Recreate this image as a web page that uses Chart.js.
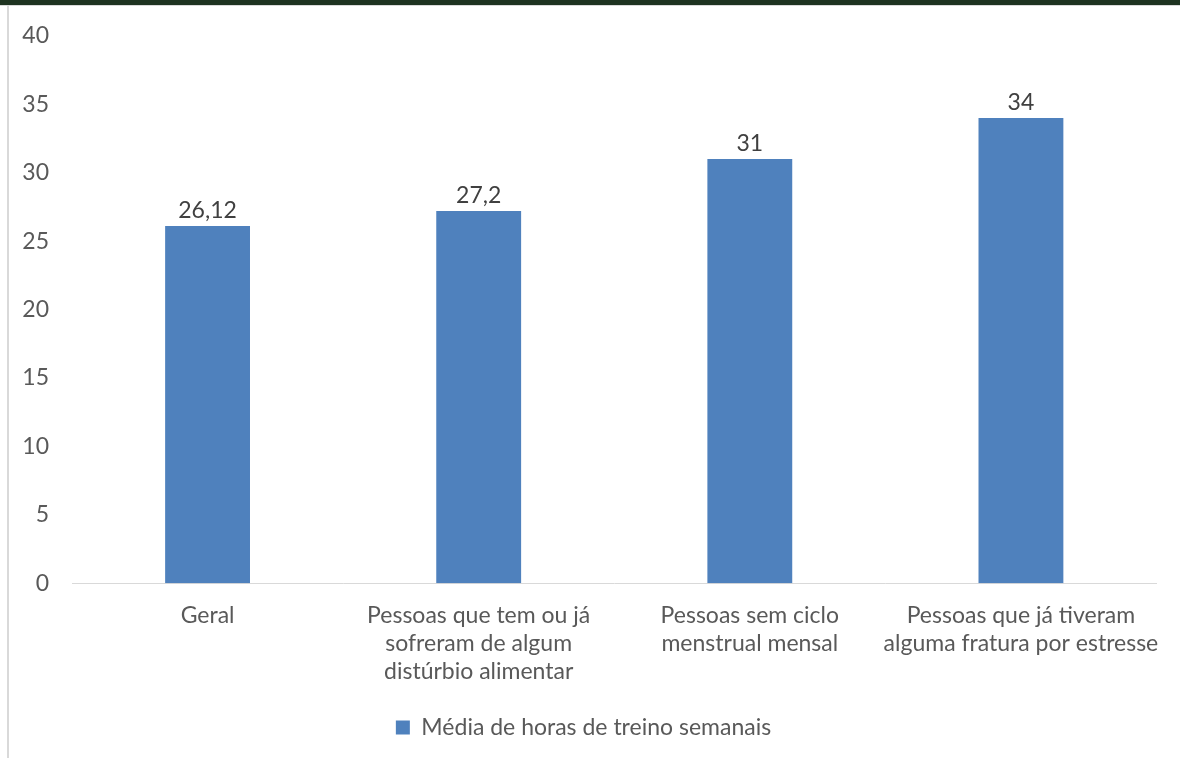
<!DOCTYPE html>
<html>
<head>
<meta charset="utf-8">
<script src="https://cdn.jsdelivr.net/npm/chart.js@4/dist/chart.umd.min.js"></script>
<style>
  html, body { margin: 0; padding: 0; background: #fff; }
  body { width: 1180px; height: 758px; position: relative; overflow: hidden; }
  #band { position: absolute; left: 0; top: 0; width: 1180px; height: 5px; background: #1e3320; }
  #bandEdge { position: absolute; left: 0; top: 5px; width: 1180px; height: 1px; background: #d9d9d9; }
  #edge { position: absolute; left: 7px; top: 5px; width: 2px; height: 753px; background: #d9d9d9; }
  #wrap { position: absolute; left: 9px; top: 6px; width: 1171px; height: 752px; }
</style>
</head>
<body>
<div id="band"></div>
<div id="bandEdge"></div>
<div id="edge"></div>
<div id="wrap"><canvas id="chart"></canvas></div>
<script>
const categories = [
    ['Geral'],
    ['Pessoas que tem ou já', 'sofreram de algum', 'distúrbio alimentar'],
    ['Pessoas sem ciclo', 'menstrual mensal'],
    ['Pessoas que já tiveram', 'alguma fratura por estresse']
];
const seriesName = 'Média de horas de treino semanais';
const seriesValues = [26.12, 27.2, 31, 34];
const valueLabels = ['26,12', '27,2', '31', '34'];

const FONT = 'Lato, "Open Sans", sans-serif';
const FONT_SIZE = 23;

// writes the value over each bar
const barValuePlugin = {
    id: 'barValues',
    afterDatasetsDraw(chart) {
        const ctx = chart.ctx;
        const meta = chart.getDatasetMeta(0);
        ctx.save();
        ctx.font = FONT_SIZE + 'px ' + FONT;
        ctx.fillStyle = '#404040';
        ctx.textAlign = 'center';
        ctx.textBaseline = 'bottom';
        meta.data.forEach((bar, i) => {
            ctx.fillText(valueLabels[i], bar.x, bar.y - 4);
        });
        ctx.restore();
    }
};

new Chart(document.getElementById('chart'), {
    type: 'bar',
    data: {
        labels: categories,
        datasets: [{
            label: seriesName,
            data: seriesValues,
            backgroundColor: '#4f81bd',
            categoryPercentage: 1,
            barPercentage: 0.313
        }]
    },
    options: {
        responsive: true,
        maintainAspectRatio: false,
        animation: false,
        layout: {
            padding: { top: 30, right: 22, left: 0, bottom: 9 }
        },
        scales: {
            x: {
                grid: { display: false, drawTicks: false },
                border: { display: true, color: '#d9d9d9', width: 1 },
                ticks: {
                    color: '#595959',
                    font: { family: FONT, size: FONT_SIZE },
                    padding: 19,
                    maxRotation: 0,
                    autoSkip: false
                }
            },
            y: {
                min: 0,
                max: 40,
                grid: { display: false, drawTicks: false },
                border: { display: false },
                ticks: {
                    stepSize: 5,
                    color: '#595959',
                    font: { family: FONT, size: FONT_SIZE },
                    padding: 23
                },
                afterFit(scale) {
                    scale.width = 63;
                    scale.paddingTop = 0;
                    scale.paddingBottom = 0;
                }
            }
        },
        plugins: {
            legend: {
                display: true,
                position: 'bottom',
                labels: {
                    color: '#595959',
                    font: { family: FONT, size: FONT_SIZE },
                    boxWidth: 14,
                    boxHeight: 14,
                    padding: 12
                }
            },
            tooltip: { enabled: false }
        }
    },
    plugins: [barValuePlugin]
});
</script>
</body>
</html>
